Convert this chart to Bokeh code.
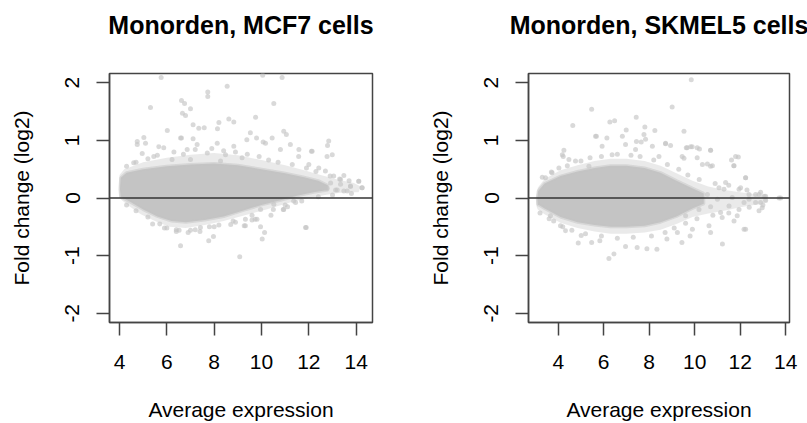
from bokeh.plotting import figure
from bokeh.layouts import row
from bokeh.models import Range1d, FixedTicker, Span, Title
from bokeh.embed import file_html
from bokeh.resources import INLINE

# ---------------- data ----------------
titles = ["Monorden, MCF7 cells", "Monorden, SKMEL5 cells"]
x_label = "Average expression"
y_label = "Fold change (log2)"
x_ticks = [4, 6, 8, 10, 12, 14]
y_ticks = [-2, -1, 0, 1, 2]

# MCF7: dense core outline of the cloud
mcf7_core_x = [4.05, 4.02, 4.05, 4.3, 5.0, 6.0, 7.0, 8.0, 9.0, 10.0, 11.0, 11.8, 12.4, 12.8,
               12.8, 12.2, 11.5, 10.8, 10.0, 9.2, 8.4, 7.6, 6.8, 6.2, 5.6, 5.0, 4.5, 4.2]
mcf7_core_y = [0.02, 0.15, 0.35, 0.44, 0.5, 0.55, 0.58, 0.6, 0.57, 0.5, 0.43, 0.36, 0.3, 0.22,
               0.14, 0.1, 0.04, -0.04, -0.12, -0.22, -0.32, -0.38, -0.42, -0.4, -0.32, -0.2, -0.08, -0.01]
# MCF7: sparser halo around the core
mcf7_halo_x = [4.0, 3.98, 4.0, 4.2, 5.0, 6.0, 7.0, 8.0, 9.0, 10.0, 11.0, 11.8, 12.5, 13.2, 13.9, 14.2,
               14.1, 13.5, 12.8, 12.0, 11.2, 10.2, 9.3, 8.4, 7.6, 6.8, 6.1, 5.5, 4.9, 4.4, 4.1]
mcf7_halo_y = [0.0, 0.2, 0.4, 0.5, 0.62, 0.7, 0.75, 0.78, 0.74, 0.66, 0.57, 0.48, 0.4, 0.32, 0.26, 0.2,
               0.1, 0.1, 0.06, 0.0, -0.08, -0.2, -0.3, -0.4, -0.47, -0.52, -0.5, -0.4, -0.28, -0.14, -0.04]
# MCF7: individual genes outside the core
mcf7_pts_x = [5.76, 10.05, 10.87, 8.55, 7.73, 7.73, 6.62, 6.75, 5.31, 10.52, 7.0, 6.66, 6.79, 9.75,
              8.62, 8.83, 8.2, 7.11, 7.35, 7.58, 8.14, 6.02, 10.94, 11.05, 5.03, 4.75, 12.84, 12.79,
              12.99, 12.77, 12.11, 11.58, 9.38, 9.79, 10.07, 6.62, 7.11, 5.66, 13.48, 14.11, 14.25,
              13.76, 13.34, 12.92, 13.62, 13.2, 6.58, 9.08, 10.03, 10.13, 11.89, 7.77, 7.97, 9.73,
              10.92, 11.44, 9.27, 6.52, 7.0, 7.42,
              4.75, 5.1, 4.96, 4.6, 5.45, 5.87, 6.22, 6.58, 6.86, 7.28, 7.71, 8.13, 8.48, 8.83, 9.18,
              7.0, 8.27, 9.53, 10.17, 10.45, 10.8, 11.22, 11.57, 12.14, 12.0, 12.42, 12.7, 13.05,
              13.34, 14.11, 14.25, 13.76, 13.48, 13.13, 12.77, 9.96, 10.94, 10.52, 9.32, 9.81, 9.32,
              9.96, 11.86, 11.36, 5.4, 5.9, 6.4, 8.9, 9.6, 10.4, 11.1, 6.9, 7.4, 8.0, 8.7,
              4.3, 4.7, 5.2, 5.6, 6.3, 6.7, 7.2, 7.9, 8.4, 8.9, 9.4, 9.9, 10.3, 10.7, 11.3, 11.9,
              12.3, 12.9, 13.3, 13.7,
              4.3, 4.7, 5.2, 5.7, 6.0, 6.4, 7.2, 7.8, 8.2, 8.8, 9.6, 10.5, 11.0, 11.7, 12.4, 13.0, 13.8]
mcf7_pts_y = [2.09, 2.13, 2.09, 1.94, 1.84, 1.76, 1.69, 1.64, 1.57, 1.64, 1.55, 1.47, 1.43, 1.40,
              1.37, 1.32, 1.31, 1.27, 1.21, 1.22, 1.20, 1.17, 1.16, 1.10, 1.05, 0.98, 0.99, 0.91,
              0.75, 0.72, 0.81, 0.84, 1.01, 1.04, 0.97, 1.04, 1.03, 0.89, 0.39, 0.29, 0.18,
              0.2, 0.24, 0.26, 0.12, 0.14, -0.83, -1.02, -0.71, -0.6, -0.51, -0.74, -0.67, -0.37,
              -0.2, -0.08, -0.48, -0.56, -0.56, -0.51,
              0.93, 0.95, 0.77, 0.61, 0.72, 0.87, 0.67, 1.04, 0.84, 0.93, 0.78, 0.95, 0.75, 0.9, 0.7,
              0.67, 0.64, 1.13, 0.95, 1.04, 0.84, 0.93, 0.72, 0.81, 0.58, 0.52, 0.47, 0.38,
              0.32, 0.29, 0.18, 0.21, 0.12, 0.14, 0.17, -0.2, -0.2, -0.11, -0.37, -0.37, -0.48,
              -0.5, -0.51, -0.05, -0.45, -0.52, -0.55, -0.42, -0.38, -0.3, -0.15, -0.6, -0.58, -0.5, -0.46,
              0.55, 0.62, 0.68, 0.74, 0.8, 0.76, 0.84, 0.86, 0.82, 0.8, 0.76, 0.72, 0.66, 0.62, 0.58, 0.52,
              0.46, 0.38, 0.33, 0.3,
              -0.12, -0.22, -0.33, -0.45, -0.52, -0.58, -0.55, -0.5, -0.47, -0.4, -0.3, -0.2, -0.12, -0.05,
              0.02, 0.05, 0.08]

# SKMEL5: dense core outline
skmel_core_x = [3.1, 3.08, 3.12, 3.4, 4.1, 4.85, 5.6, 6.3, 7.0, 7.8, 8.5, 9.2, 9.9, 10.4,
                10.4, 9.9, 9.2, 8.5, 7.8, 7.0, 6.3, 5.6, 4.85, 4.1, 3.4, 3.15]
skmel_core_y = [-0.12, 0.0, 0.12, 0.25, 0.38, 0.46, 0.52, 0.56, 0.56, 0.52, 0.44, 0.3, 0.17, 0.08,
                -0.1, -0.18, -0.32, -0.42, -0.48, -0.5, -0.5, -0.47, -0.42, -0.33, -0.18, -0.12]
skmel_halo_x = [3.05, 3.03, 3.1, 3.4, 4.1, 4.85, 5.6, 6.3, 7.0, 7.8, 8.5, 9.2, 9.9, 10.6, 11.3, 12.0,
                12.6, 13.2, 13.2, 12.6, 12.0, 11.3, 10.6, 9.9, 9.2, 8.5, 7.8, 7.0, 6.3, 5.6, 4.85,
                4.1, 3.4, 3.1]
skmel_halo_y = [-0.15, 0.0, 0.18, 0.33, 0.48, 0.57, 0.64, 0.68, 0.68, 0.64, 0.56, 0.43, 0.3, 0.2, 0.14,
                0.1, 0.07, 0.05, -0.08, -0.12, -0.16, -0.22, -0.27, -0.33, -0.45, -0.55, -0.6, -0.62,
                -0.62, -0.58, -0.52, -0.43, -0.28, -0.2]
skmel_pts_x = [9.85, 5.47, 9.01, 4.64, 6.27, 6.48, 7.43, 7.81, 8.25, 6.99, 9.53, 5.68, 6.14, 7.44,
               7.84, 7.65, 8.72, 9.63, 9.89, 10.21, 10.7, 4.25, 4.22, 11.62, 11.92, 11.72, 12.24,
               10.7, 10.11, 9.53, 11.29, 12.02, 12.68, 13.05, 12.9, 12.17, 11.51, 11.14, 11.87,
               12.17, 11.22, 10.7, 12.83, 13.12, 12.39, 11.65, 11.0, 10.7, 10.56, 13.78,
               6.23, 6.45, 4.88, 5.47, 5.83, 6.96, 7.47, 7.9, 8.34, 8.78, 9.44, 9.8, 9.24, 5.01,
               4.1, 4.32, 3.66, 3.8,
               4.18, 4.47, 4.76, 5.64, 5.93, 6.37, 6.82, 6.96, 7.4, 7.77, 8.14, 8.43, 5.35, 3.44,
               3.73, 4.03, 8.72, 8.94, 9.67, 9.82, 10.11, 10.7, 9.45, 10.34, 10.56, 10.78, 11.8,
               11.73, 12.24, 11.36, 11.07, 11.95, 12.39, 12.83, 13.12, 13.71, 12.68, 12.97, 11.95,
               11.21, 11.73, 12.24, 10.63, 9.9, 10.19, 9.6,
               3.3, 3.7, 4.4, 5.0, 5.4, 5.9, 6.6, 7.2, 7.6, 8.2, 8.8, 9.3, 9.7, 10.2, 10.9, 11.5,
               12.3, 12.9,
               3.2, 3.6, 4.2, 4.6, 5.2, 5.9, 6.6, 7.3, 8.1, 8.7, 9.1, 9.6, 10.1, 10.8, 11.5, 12.4, 13.0]
skmel_pts_y = [2.05, 1.54, 1.58, 1.26, 1.32, 1.34, 1.40, 1.23, 1.17, 1.18, 1.16, 1.07, 1.04, 0.98,
               1.02, 0.97, 0.94, 0.87, 0.89, 0.85, 0.83, 0.83, 0.72, 0.66, 0.71, 0.56, 0.35,
               0.55, 0.70, 0.69, 0.15, 0.18, 0.06, 0.03, -0.08, -0.08, -0.14, -0.25, -0.31,
               -0.54, -0.8, -0.6, -0.22, -0.04, -0.02, 0.01, -0.02, -0.15, 0.06, 0.0,
               -1.05, -0.97, -0.78, -0.77, -0.74, -0.84, -0.86, -0.88, -0.89, -0.71, -0.77, -0.66,
               -0.6, -0.65, -0.48, -0.57, -0.31, -0.4,
               0.75, 0.67, 0.64, 1.07, 0.9, 0.75, 1.07, 0.93, 0.84, 1.1, 0.9, 0.72, 0.55, 0.35,
               0.44, 0.52, 0.95, 0.91, 0.87, 0.89, 0.87, 0.83, 0.72, 0.58, 0.59, 0.56, 0.72,
               0.56, 0.35, 0.27, 0.18, 0.15, 0.06, 0.06, 0.03, 0.0, -0.08, -0.17, -0.2,
               -0.34, -0.4, -0.54, -0.48, -0.54, -0.2, -0.31,
               0.36, 0.45, 0.56, 0.64, 0.7, 0.72, 0.76, 0.74, 0.72, 0.66, 0.58, 0.5, 0.4, 0.32, 0.25, 0.22,
               0.14, 0.1,
               -0.26, -0.36, -0.5, -0.56, -0.62, -0.66, -0.7, -0.68, -0.66, -0.6, -0.52, -0.44, -0.36, -0.3,
               -0.26, -0.16, -0.12]

x_ranges = [(3.578, 14.69), (2.693, 14.17)]
y_range = (-2.16, 2.16)

FONT = "Liberation Sans"
GRAY = "#C4C4C4"
LINE = "#444444"


def make_panel(title, core_x, core_y, halo_x, halo_y, pts_x, pts_y, xr,
               width, border_left, border_right):
    p = figure(width=width, height=423, output_backend="svg", toolbar_location=None,
               title=None,
               x_range=Range1d(*xr), y_range=Range1d(*y_range),
               min_border_left=border_left, min_border_right=border_right,
               min_border_top=73, min_border_bottom=100)
    # blank spacer between the frame and the title (white text on white)
    p.add_layout(Title(text="x", text_font_size="10px", text_color="white", standoff=22), "above")
    p.add_layout(Title(text=title, align="center", text_font=FONT, text_font_size="25px",
                       text_font_style="bold", text_color="black", standoff=0), "above")
    p.xgrid.visible = False
    p.ygrid.visible = False
    p.outline_line_color = LINE
    p.outline_line_width = 1.5
    p.background_fill_color = "white"
    p.border_fill_color = "white"

    p.patch(halo_x, halo_y, fill_color=GRAY, fill_alpha=0.35, line_color=None)
    p.patch(core_x, core_y, fill_color=GRAY, fill_alpha=1.0, line_color=GRAY,
            line_alpha=0.5, line_width=3)
    p.scatter(pts_x, pts_y, size=5, fill_color=GRAY, fill_alpha=0.65, line_color=None)
    p.add_layout(Span(location=0, dimension="width", line_color="#333333", line_width=1.5))

    for ax, ticks, lab in ((p.xaxis[0], x_ticks, x_label), (p.yaxis[0], y_ticks, y_label)):
        ax.ticker = FixedTicker(ticks=ticks)
        ax.major_label_overrides = {t: str(t) for t in ticks}
        ax.minor_tick_line_color = None
        ax.major_tick_in = 0
        ax.major_tick_out = 13
        ax.major_tick_line_color = LINE
        ax.major_tick_line_width = 1.5
        ax.axis_line_color = LINE
        ax.axis_line_width = 1.5
        ax.major_label_text_font = FONT
        ax.major_label_text_font_size = "21px"
        ax.major_label_text_color = "black"
        ax.axis_label = lab
        ax.axis_label_text_font = FONT
        ax.axis_label_text_font_size = "21px"
        ax.axis_label_text_font_style = "normal"
        ax.axis_label_text_color = "black"
    p.xaxis[0].major_label_standoff = 19
    p.xaxis[0].axis_label_standoff = 26
    p.yaxis[0].major_label_orientation = "parallel"
    p.yaxis[0].major_label_standoff = 17
    p.yaxis[0].axis_label_standoff = 30
    return p


p1 = make_panel(titles[0], mcf7_core_x, mcf7_core_y, mcf7_halo_x, mcf7_halo_y,
                mcf7_pts_x, mcf7_pts_y, x_ranges[0], 403, 109, 31)
p2 = make_panel(titles[1], skmel_core_x, skmel_core_y, skmel_halo_x, skmel_halo_y,
                skmel_pts_x, skmel_pts_y, x_ranges[1], 404, 125, 18)

p = row(p1, p2)
open("out.html", "w").write(file_html(p, INLINE))
